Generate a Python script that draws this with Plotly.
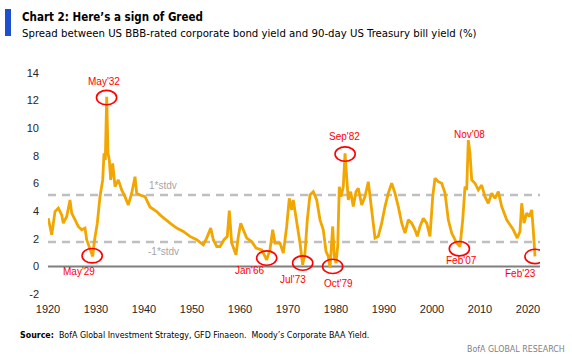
import plotly.graph_objects as go

# ---- data ----
years = [1920.06, 1920.77, 1921.46, 1922.15, 1922.85, 1923.19, 1923.9, 1924.58, 1924.94, 1925.63,
         1926.31, 1927.02, 1927.71, 1928.06, 1928.75, 1929.31, 1929.65, 1930.27, 1930.83, 1931.4,
         1931.67, 1931.94, 1932.23, 1932.5, 1932.77, 1933.06, 1933.48, 1933.96, 1934.65, 1935.35,
         1936.04, 1936.73, 1937.44, 1938.13, 1938.48, 1939.17, 1940.21, 1941.25, 1942.65, 1943.33,
         1945.42, 1946.81, 1948.19, 1949.58, 1950.98, 1952.35, 1953.06, 1953.9, 1954.44, 1955.15,
         1955.83, 1956.67, 1957.35, 1957.77, 1958.27, 1959.17, 1959.65, 1960.15, 1960.69, 1961.4,
         1962.44, 1963.33, 1964.52, 1965.56, 1966.25, 1966.81, 1967.29, 1968.33, 1969.02, 1969.73,
         1970.27, 1970.77, 1971.1, 1971.81, 1972.5, 1973.06, 1973.54, 1974.02, 1974.58, 1975.27,
         1975.98, 1976.67, 1977.35, 1977.92, 1978.4, 1978.75, 1979.31, 1979.65, 1980.0, 1980.35,
         1980.69, 1981.04, 1981.52, 1981.88, 1982.23, 1982.56, 1983.06, 1983.6, 1984.17, 1984.65,
         1985.35, 1986.04, 1986.73, 1987.23, 1988.13, 1988.81, 1989.52, 1990.21, 1990.9, 1991.6,
         1992.29, 1992.98, 1993.69, 1994.38, 1995.06, 1995.77, 1996.46, 1996.94, 1997.5, 1998.19,
         1998.9, 1999.58, 2000.15, 2000.63, 2001.31, 2002.02, 2002.71, 2003.4, 2004.1, 2005.15,
         2005.83, 2006.4, 2006.88, 2007.23, 2007.56, 2007.92, 2008.27, 2008.96, 2009.65, 2010.35,
         2011.04, 2011.73, 2012.44, 2013.13, 2013.81, 2014.52, 2015.56, 2016.94, 2017.77, 2018.33,
         2018.69, 2019.17, 2019.73, 2020.27, 2020.77, 2021.1, 2021.46]
spread = [3.49, 2.29, 3.97, 4.21, 3.73, 3.13, 3.61, 4.81, 3.85, 3.37,
          2.89, 2.65, 2.77, 1.93, 1.20, 0.72, 1.80, 3.13, 5.05, 6.26,
          8.18, 7.70, 12.27, 8.18, 7.70, 6.26, 7.46, 5.77, 6.26, 5.53,
          5.05, 4.45, 5.30, 6.49, 5.30, 5.17, 5.05, 4.30, 3.97, 3.73,
          3.13, 2.77, 2.53, 2.17, 1.93, 1.56, 2.05, 2.77, 1.93, 1.44,
          1.44, 1.93, 2.17, 4.04, 1.69, 0.84, 2.17, 3.13, 2.65, 2.05,
          1.80, 1.33, 1.20, 0.48, 1.20, 2.65, 1.69, 1.69, 0.96, 2.89,
          4.93, 4.09, 4.81, 3.37, 1.69, 0.12, 0.96, 3.37, 5.17, 5.41,
          4.81, 3.37, 2.65, 1.08, 0.72, -0.10, 2.89, 0.72, 0.24, 1.44,
          5.77, 5.05, 5.77, 8.18, 6.26, 4.81, 5.41, 4.33, 5.41, 5.65,
          4.45, 5.05, 6.13, 4.57, 2.05, 2.17, 3.13, 4.33, 5.30, 6.02,
          5.30, 4.33, 3.13, 2.41, 3.37, 3.13, 2.65, 2.17, 2.89, 3.49,
          3.13, 2.17, 5.05, 6.38, 6.13, 6.02, 5.30, 3.37, 2.41, 1.69,
          1.44, 3.37, 5.77, 5.53, 9.14, 8.18, 6.26, 6.02, 5.53, 5.89,
          5.05, 4.57, 5.30, 4.93, 5.41, 4.33, 3.37, 2.65, 2.05, 2.53,
          4.57, 3.13, 3.85, 3.61, 4.09, 2.65, 0.72]

std_levels = [5.17, 1.76]
std_labels = ["1*stdv", "-1*stdv"]
std_label_pos = [(1944.0, 5.85), (1944.0, 1.06)]

# circled events
event_labels = ["May'29", "May'32", "Jan'66", "Jul'73", "Oct'79", "Sep'82", "Feb'07", "Feb'23"]
event_cx = [1929.2, 1932.2, 1965.56, 1973.06, 1979.3, 1981.9, 2005.7, 2021.46]
event_cy = [0.77, 12.22, 0.60, 0.24, 0.0, 8.13, 1.28, 0.72]
event_tx = [1926.5, 1931.7, 1962.1, 1971.0, 1980.5, 1981.7, 2006.2, 2018.5]
event_ty = [-0.38, 13.35, -0.31, -0.95, -1.25, 9.43, 0.43, -0.48]
extra_label = ("Nov'08", 2007.9, 9.57)

x_ticks = [1920, 1930, 1940, 1950, 1960, 1970, 1980, 1990, 2000, 2010, 2020]
y_ticks = [-2, 0, 2, 4, 6, 8, 10, 12, 14]

NARROW = "Liberation Sans Narrow, DejaVu Sans Condensed, Arial Narrow, sans-serif"
REG = "Liberation Sans, Arial, sans-serif"
ORANGE = "#F2A600"
RED = "#FF0000"

fig = go.Figure()
fig.add_trace(go.Scatter(x=years, y=spread, mode="lines",
                         line=dict(color=ORANGE, width=2.8), hoverinfo="skip",
                         showlegend=False))

shapes = []
for lvl in std_levels:
    shapes.append(dict(type="line", xref="paper", yref="y", x0=0, x1=1, y0=lvl, y1=lvl,
                       line=dict(color="#BFBFBF", width=2.5, dash="8px,6px"), layer="below"))
shapes.append(dict(type="line", xref="paper", yref="y", x0=0, x1=1, y0=0, y1=0,
                   line=dict(color="#7F7F7F", width=2), layer="below"))
rx, ry = 2.1, 0.52
for cx, cy in zip(event_cx, event_cy):
    shapes.append(dict(type="circle", xref="x", yref="y", x0=cx - rx, x1=cx + rx,
                       y0=cy - ry, y1=cy + ry, line=dict(color=RED, width=1.6)))
shapes.append(dict(type="rect", xref="paper", yref="paper", x0=-0.0874, x1=-0.0752,
                   y0=1.1674, y1=1.2896, fillcolor="#1F4FD1", line=dict(width=0)))

annotations = []
for t, (ax, ay) in zip(std_labels, std_label_pos):
    annotations.append(dict(x=ax, y=ay, xref="x", yref="y", text=t, showarrow=False,
                            font=dict(family=REG, size=10, color="#A6A6A6")))
for t, tx, ty in zip(event_labels, event_tx, event_ty):
    annotations.append(dict(x=tx, y=ty, xref="x", yref="y", text=t, showarrow=False,
                            font=dict(family=REG, size=10, color=RED)))
annotations.append(dict(x=extra_label[1], y=extra_label[2], xref="x", yref="y",
                        text=extra_label[0], showarrow=False,
                        font=dict(family=REG, size=10, color=RED)))
annotations.append(dict(x=-0.0569, y=1.2534, xref="paper", yref="paper", xanchor="left",
                        yanchor="middle", showarrow=False,
                        text="<b>Chart 2: Here’s a sign of Greed</b>",
                        font=dict(family=NARROW, size=11.5, color="#000000")))
annotations.append(dict(x=-0.0569, y=1.1765, xref="paper", yref="paper", xanchor="left",
                        yanchor="middle", showarrow=False,
                        text="Spread between US BBB-rated corporate bond yield and 90-day US Treasury bill yield (%)",
                        font=dict(family=NARROW, size=11.3, color="#000000")))
annotations.append(dict(x=-0.061, y=-0.1855, xref="paper", yref="paper", xanchor="left",
                        yanchor="middle", showarrow=False,
                        text="<b>Source:</b>  BofA Global Investment Strategy, GFD Finaeon.  Moody’s Corporate BAA Yield.",
                        font=dict(family=NARROW, size=8.8, color="#000000")))
annotations.append(dict(x=1.0549, y=-0.2489, xref="paper", yref="paper", xanchor="right",
                        yanchor="middle", showarrow=False, text="BofA GLOBAL RESEARCH",
                        font=dict(family=NARROW, size=8.8, color="#7F7F7F")))

fig.update_layout(
    width=572, height=358,
    margin=dict(l=48, r=32, t=73, b=64, pad=0),
    paper_bgcolor="white", plot_bgcolor="white",
    showlegend=False,
    shapes=shapes, annotations=annotations,
    xaxis=dict(range=[1920, 2022.5], tickvals=x_ticks, ticktext=[str(v) for v in x_ticks],
               showgrid=False, zeroline=False, showline=False, ticks="",
               tickfont=dict(family=REG, size=11, color="#262626"), ticklabelstandoff=7),
    yaxis=dict(range=[-2, 14], tickvals=y_ticks, ticktext=[str(v) for v in y_ticks],
               showgrid=False, zeroline=False, showline=False, ticks="",
               tickfont=dict(family=REG, size=11, color="#262626"), ticklabelstandoff=8),
)

fig.write_html("out.html", config={"displayModeBar": False},
               post_script="document.body.style.margin='0';")
